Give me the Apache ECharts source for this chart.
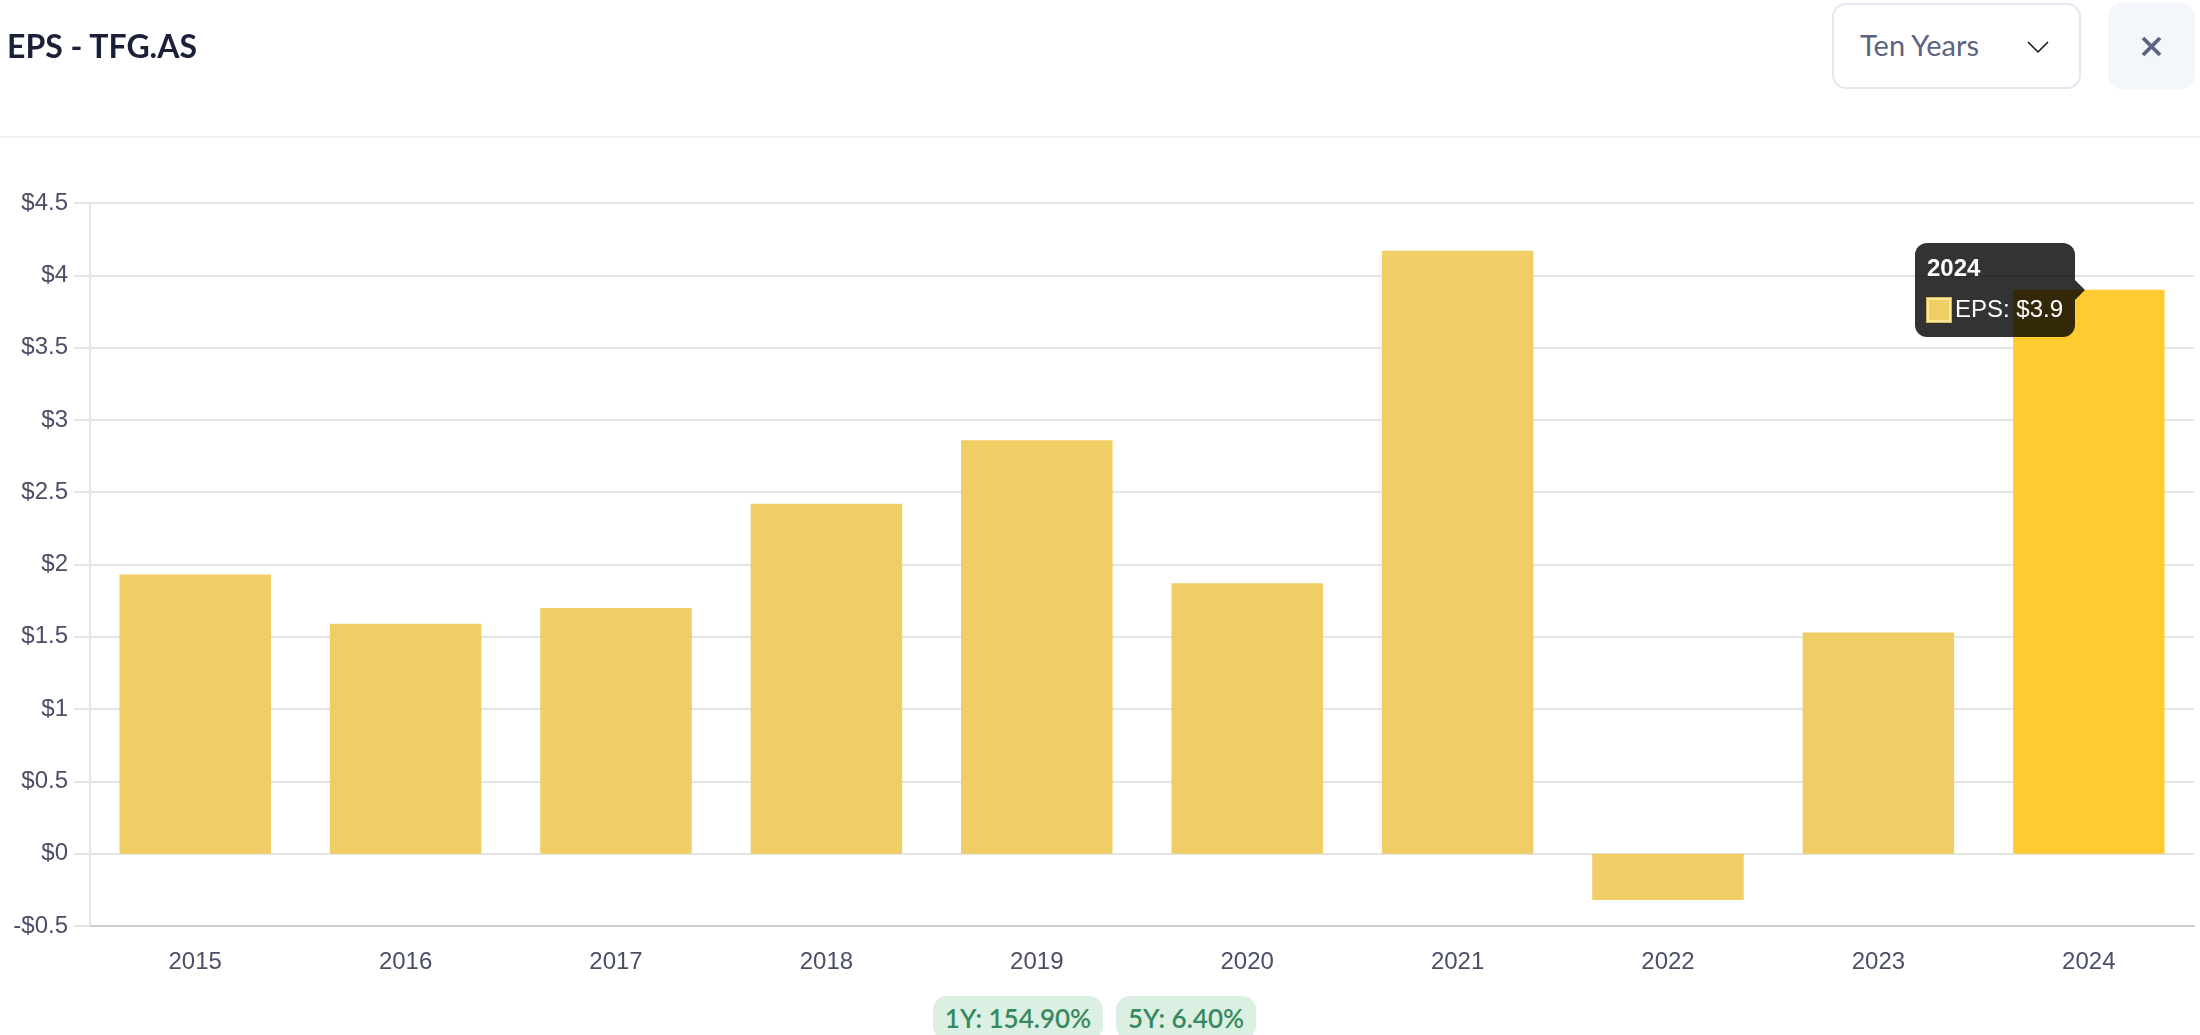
<!DOCTYPE html>
<html lang="en">
<head>
	<meta charset="UTF-8">
	<title>EPS - TFG.AS</title>
	<style>
		html,body{
			margin: 0;
			width: 2200px;
			height: 1035px;
			overflow: hidden;
			background: #fff;
		}
		#main{
			position: absolute;
			left: 0;
			top: 0;
			width: 2200px;
			height: 1035px;
		}
		#title{
			position: absolute;
			left: 7px;
			top: 27px;
			font: 700 32px/38px Lato;
			color: #1a2038;
			z-index: 10;
		}
		#headline{
			position: absolute;
			left: 0;
			top: 136px;
			width: 2200px;
			height: 2px;
			background: #eff3f6;
		}
		#range{
			position: absolute;
			left: 1832px;
			top: 3px;
			width: 245px;
			height: 82px;
			border: 2px solid #e3e7f0;
			border-radius: 14px;
			background: #fff;
			z-index: 10;
		}
		#range span{
			position: absolute;
			left: 26px;
			top: 22px;
			font: 400 29px/36px Lato;
			color: #5c637e;
		}
		#range svg{
			position: absolute;
			left: 193px;
			top: 35px;
		}
		#close{
			position: absolute;
			left: 2108px;
			top: 3px;
			width: 87px;
			height: 86px;
			border-radius: 14px;
			background: #f3f6fa;
			z-index: 10;
		}
		#close svg{
			position: absolute;
			left: 33px;
			top: 33px;
		}
		.pill{
			position: absolute;
			top: 996px;
			height: 44px;
			text-align: center;
			border-radius: 14px;
			background: #dbefe3;
			color: #378a5f;
			font: 600 26px/45px Lato;
			z-index: 10;
		}
		#pill1{ left: 933px; width: 170px; }
		#pill2{ left: 1116px; width: 140px; }
	</style>
	<script src="https://cdn.jsdelivr.net/npm/echarts@6/dist/echarts.min.js"></script>
</head>
<body>
	<div id="main"></div>
	<div id="title">EPS - TFG.AS</div>
	<div id="headline"></div>
	<div id="range">
		<span>Ten Years</span>
		<svg width="22" height="14"><path d="M1 2 L11 12 L21 2" fill="none" stroke="#111" stroke-width="1.5"/></svg>
	</div>
	<div id="close">
		<svg width="21" height="21"><path d="M2 2 L19 19 M19 2 L2 19" fill="none" stroke="#5c637e" stroke-width="3.8"/></svg>
	</div>
	<div class="pill" id="pill1">1Y: 154.90%</div>
	<div class="pill" id="pill2">5Y: 6.40%</div>

	<script>
		var years = ['2015','2016','2017','2018','2019','2020','2021','2022','2023','2024'];
		var eps = [1.93, 1.59, 1.70, 2.42, 2.86, 1.87, 4.17, -0.32, 1.53, 3.90];
		var activeIndex = 9;

		var gridColor = '#e5e5e5';
		var textColor = '#4b4f66';
		var barColor = '#f0cd65';

		function money(v){
			return (v < 0 ? '-$' : '$') + Math.abs(v);
		}

		var myChart = echarts.init(document.getElementById('main'));

		var option = {
			animation: false,
			grid: {
				left: 90,
				right: 6,
				top: 203,
				bottom: 109
			},
			tooltip: {
				trigger: 'item',
				transitionDuration: 0,
				backgroundColor: 'rgba(0,0,0,0.8)',
				borderWidth: 0,
				padding: 0,
				extraCssText: 'box-shadow:none;border-radius:12px;',
				position: function(point, params, dom, rect, size){
					// caret points at the top middle of the bar
					return [rect.x + rect.width / 2 - size.contentSize[0] - 14, rect.y - 47];
				},
				formatter: function(p){
					return '<div style="position:relative;width:160px;height:94px;font-family:\'Liberation Sans\';color:#fff;">'
						+ '<div style="position:absolute;left:12px;top:11px;font-size:24px;line-height:28px;font-weight:bold;">' + p.name + '</div>'
						+ '<div style="position:absolute;left:12px;top:55px;width:20px;height:20px;background:' + barColor + ';border:2px solid #fbe59b;box-shadow:0 0 0 1px #d8b558;"></div>'
						+ '<div style="position:absolute;left:40px;top:52px;font-size:24px;line-height:28px;white-space:nowrap;">' + p.seriesName + ': ' + money(p.value) + '</div>'
						+ '<div style="position:absolute;left:160px;top:37px;width:0;height:0;border-style:solid;border-width:10px 0 10px 10px;border-color:transparent transparent transparent rgba(0,0,0,0.8);"></div>'
						+ '</div>';
				}
			},
			xAxis: {
				type: 'category',
				data: years,
				axisTick: {show: false},
				axisLine: {
					onZero: false,
					lineStyle: {color: '#cccccc', width: 2}
				},
				axisLabel: {
					color: textColor,
					fontFamily: 'Liberation Sans',
					fontSize: 24,
					margin: 24
				}
			},
			yAxis: {
				type: 'value',
				min: -0.5,
				max: 4.5,
				interval: 0.5,
				axisLine: {
					show: true,
					lineStyle: {color: gridColor, width: 2}
				},
				axisTick: {
					show: true,
					length: 16,
					lineStyle: {color: gridColor, width: 2}
				},
				splitLine: {
					lineStyle: {color: gridColor, width: 2}
				},
				axisLabel: {
					color: textColor,
					fontFamily: 'Liberation Sans',
					fontSize: 24,
					margin: 22,
					formatter: money
				}
			},
			series: [{
				name: 'EPS',
				type: 'bar',
				data: eps,
				barWidth: '72%',
				itemStyle: {
					color: barColor
				},
				emphasis: {
					itemStyle: {color: '#ffcb30'}
				}
			}]
		};

		myChart.setOption(option);

		myChart.dispatchAction({type: 'highlight', seriesIndex: 0, dataIndex: activeIndex});
		myChart.dispatchAction({type: 'showTip', seriesIndex: 0, dataIndex: activeIndex});
	</script>
</body>
</html>
